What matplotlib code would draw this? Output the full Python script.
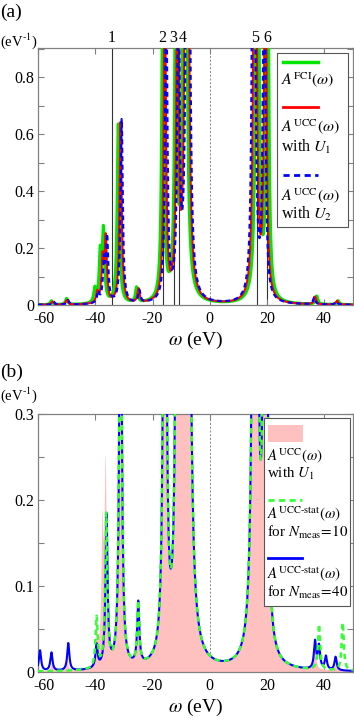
import numpy as np
import matplotlib
matplotlib.use('Agg')
import matplotlib.pyplot as plt
import matplotlib.transforms as mtransforms
from matplotlib.lines import Line2D
from matplotlib.patches import Rectangle
from matplotlib.ticker import MultipleLocator, FuncFormatter

plt.rcParams['font.family'] = ['Liberation Serif', 'DejaVu Serif']
plt.rcParams['mathtext.fontset'] = 'stix'
plt.rcParams['axes.unicode_minus'] = False

# ---------------- data (poles in eV, spectral weights) ----------------
eta = 0.45  # Lorentzian broadening (eV)

fci_pos = [-55.4, -50.1, -40.2, -38.3, -37.2, -32.0, -25.6, -16.4, -11.9, -8.7, 16.7, 20.3, 37.5, 45.0]
fci_w   = [0.019, 0.03, 0.068, 0.235, 0.35, 0.89, 0.075, 1.6, 1.6, 6.0, 4.0, 2.1, 0.041, 0.019]

u1_pos = [-55.0, -50.0, -39.4, -37.5, -36.4, -31.2, -24.9, -15.7, -11.3, -8.0, 15.9, 19.5, 36.9, 44.6]
u1_w   = [0.015, 0.022, 0.052, 0.21, 0.315, 0.9, 0.068, 1.6, 1.6, 6.0, 4.0, 2.1, 0.038, 0.019]

u2_pos = [-54.6, -49.6, -39.0, -37.0, -35.9, -30.8, -24.6, -15.2, -10.9, -7.6, 15.4, 19.1, 36.6, 44.3]
u2_w   = [0.015, 0.022, 0.052, 0.195, 0.315, 0.915, 0.06, 1.6, 1.6, 6.0, 4.0, 2.1, 0.034, 0.015]

n10_pos = [-39.6, -36.2, -31.2, -25.0, -15.7, -11.3, -8.0, 15.9, 19.5, 38.3, 46.6]
n10_w   = [0.083, 0.25, 0.9, 0.102, 1.6, 1.6, 6.0, 4.0, 2.1, 0.075, 0.079]

n40_pos = [-59.4, -55.4, -49.5, -39.6, -36.1, -31.2, -25.0, -15.7, -11.3, -8.0, 15.9, 19.5, 36.9, 38.3, 40.7, 44.1]
n40_w   = [0.034, 0.03, 0.045, 0.038, 0.25, 0.9, 0.102, 1.6, 1.6, 6.0, 4.0, 2.1, 0.045, 0.038, 0.022, 0.022]

peak_line_pos = [-34.3, -16.5, -12.4, -10.6, 16.5, 20.2]
peak_label_pos = [-34.3, -16.7, -12.7, -9.4, 16.0, 20.2]
peak_labels = ['1', '2', '3', '4', '5', '6']

xticks = [-60, -40, -20, 0, 20, 40]
yticks_a = [0, 0.2, 0.4, 0.6, 0.8]
yticks_b = [0, 0.1, 0.2, 0.3]

omega = np.linspace(-62, 52, 8000)


def spectral(pos, w):
    p = np.asarray(pos)[:, None]
    ww = np.asarray(w)[:, None]
    return (ww * eta / np.pi / ((omega[None, :] - p) ** 2 + eta ** 2)).sum(axis=0)


A_fci = spectral(fci_pos, fci_w)
A_u1 = spectral(u1_pos, u1_w)
A_u2 = spectral(u2_pos, u2_w)
A_n10 = spectral(n10_pos, n10_w)
A_n40 = spectral(n40_pos, n40_w)

# ---------------- figure ----------------
W, H = 354, 722
fig = plt.figure(figsize=(W / 100, H / 100), dpi=100)


def fxy(x, y):
    return (x / W, 1 - y / H)


def make_axes(top, bottom):
    return fig.add_axes([38 / W, 1 - bottom / H, 315 / W, (bottom - top) / H])


GREEN = '#00e600'
RED = '#ff0000'
BLUE = '#0000ff'
PINK = '#ffc0c0'
SPINE = '#808080'


def style(ax, ylim, yticks, yminor):
    ax.set_xlim(-60.1, 50.2)
    ax.set_ylim(*ylim)
    ax.set_xticks(xticks)
    ax.set_yticks(yticks)
    ax.yaxis.set_minor_locator(MultipleLocator(yminor))
    fmt = FuncFormatter(lambda v, p: '%g' % v)
    ax.xaxis.set_major_formatter(fmt)
    ax.yaxis.set_major_formatter(fmt)
    ax.tick_params(which='both', direction='in', top=True, right=True,
                   color=SPINE, labelsize=11.5, width=0.8)
    ax.tick_params(which='major', length=4.5)
    ax.tick_params(which='minor', length=4)
    ax.tick_params(axis='x', pad=4.5)
    ax.tick_params(axis='y', pad=2.5)
    # nudge the leftmost x tick label inward (as in the reference)
    t0 = ax.xaxis.get_major_ticks()[0]
    t0.label1.set_transform(t0.label1.get_transform() +
                            mtransforms.ScaledTranslation(6 / 100, 0, fig.dpi_scale_trans))
    for s in ax.spines.values():
        s.set_color(SPINE)
        s.set_linewidth(0.9)
    ax.axvline(0, color='#777777', lw=0.6, ls=(0, (2.5, 2)), zorder=1)
    ax.set_xlabel(r'$\omega$ (eV)', fontsize=14, labelpad=2)


# ---------- panel (a) ----------
ax1 = make_axes(48, 305)
style(ax1, (0, 0.9026), yticks_a, 0.1)
for xp in peak_line_pos:
    ax1.axvline(xp, color='#333333', lw=0.8, zorder=1)
for xp, lab in zip(peak_label_pos, peak_labels):
    ax1.text(xp, 1.008, lab, transform=ax1.get_xaxis_transform(), ha='center',
             va='bottom', fontsize=11.5)
ax1.plot(omega, A_fci, color=GREEN, lw=2.2, zorder=3)
ax1.plot(omega, A_u1, color=RED, lw=1.5, zorder=4)
ax1.plot(omega, A_u2, color=BLUE, lw=1.6, ls=(0, (2.2, 1.6)), zorder=5)

# legend (a)
ax1.add_patch(Rectangle(fxy(277, 227), 71 / W, 174 / H, transform=fig.transFigure,
                        fc='white', ec='#555555', lw=0.8, zorder=10, clip_on=False))
lx0, lx1 = 283, 318
ax1.add_line(Line2D([lx0 / W, lx1 / W], [1 - 61.5 / H] * 2, transform=fig.transFigure,
                    color=GREEN, lw=2.5, zorder=11, clip_on=False))
ax1.add_line(Line2D([lx0 / W, lx1 / W], [1 - 107 / H] * 2, transform=fig.transFigure,
                    color=RED, lw=2.0, zorder=11, clip_on=False))
ax1.add_line(Line2D([lx0 / W, lx1 / W], [1 - 175 / H] * 2, transform=fig.transFigure,
                    color=BLUE, lw=2.0, ls=(0, (2.2, 1.6)), zorder=11, clip_on=False))
leg_a = [(80, r'$A^{\mathrm{FCI}}(\omega)$'),
         (127, r'$A^{\mathrm{UCC}}(\omega)$'),
         (147, r'with $U_1$'),
         (196, r'$A^{\mathrm{UCC}}(\omega)$'),
         (214, r'with $U_2$')]
for yy, t in leg_a:
    ax1.text(281 / W, 1 - yy / H, t, transform=fig.transFigure, fontsize=11.5,
             ha='left', va='center', zorder=12)

# ---------- panel (b) ----------
ax2 = make_axes(414, 672)
style(ax2, (0, 0.3), yticks_b, 0.05)
ax2.fill_between(omega, 0, A_u1, color=PINK, lw=0, zorder=2)
ax2.plot(omega, A_n40, color=BLUE, lw=1.5, zorder=4)
ax2.plot(omega, A_n10, color='#33ff33', lw=1.8, ls=(0, (2.2, 1.6)), zorder=5)

ax2.add_patch(Rectangle(fxy(264, 606), 86 / W, 188 / H, transform=fig.transFigure,
                        fc='white', ec='#555555', lw=0.8, zorder=10, clip_on=False))
ax2.add_patch(Rectangle(fxy(268, 442), 35 / W, 17 / H, transform=fig.transFigure,
                        fc=PINK, ec='none', zorder=11, clip_on=False))
ax2.add_line(Line2D([268 / W, 302 / W], [1 - 499.5 / H] * 2, transform=fig.transFigure,
                    color='#33ff33', lw=2.0, ls=(0, (2.2, 1.6)), zorder=11, clip_on=False))
ax2.add_line(Line2D([268 / W, 302 / W], [1 - 557.5 / H] * 2, transform=fig.transFigure,
                    color=BLUE, lw=2.0, zorder=11, clip_on=False))
leg_b = [(456, r'$A^{\mathrm{UCC}}(\omega)$'),
         (474, r'with $U_1$'),
         (514, r'$A^{\mathrm{UCC\text{-}stat}}(\omega)$'),
         (532, r'for $N_{\mathrm{meas}}\!=\!10$'),
         (574, r'$A^{\mathrm{UCC\text{-}stat}}(\omega)$'),
         (592, r'for $N_{\mathrm{meas}}\!=\!40$')]
for yy, t in leg_b:
    ax2.text(267 / W, 1 - yy / H, t, transform=fig.transFigure, fontsize=10.8,
             ha='left', va='center', zorder=12)

# panel labels and units
fig.text(0 / W, 1 - 12 / H, '(a)', fontsize=14, ha='left', va='center')
fig.text(0 / W, 1 - 372 / H, '(b)', fontsize=14, ha='left', va='center')
fig.text(0 / W, 1 - 41 / H, r'(eV$^{\text{-}1}$)', fontsize=10.5, ha='left', va='center')
fig.text(0 / W, 1 - 395 / H, r'(eV$^{\text{-}1}$)', fontsize=10.5, ha='left', va='center')

fig.savefig('out.png', dpi=100, facecolor='white')
